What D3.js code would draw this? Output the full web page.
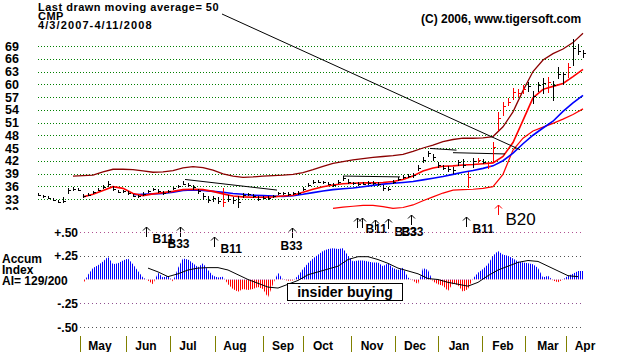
<!DOCTYPE html>
<html>
<head>
<meta charset="utf-8">
<script src="https://cdn.jsdelivr.net/npm/d3@7"></script>
<style>
    body { margin: 0; background: #fff; }
    svg text { font-family: "Liberation Sans", Arial, sans-serif; font-weight: bold; fill: #000; }
</style>
</head>
<body>
<div id="chart"></div>
<script>

// CMP 4/3/2007 - 4/11/2008, one bar about every other trading day
var closes = [33.9,33.6,33.2,32.8,32.4,32.6,35.0,35.4,35.2,33.6,
    34.0,34.6,35.2,35.8,36.6,35.4,34.7,34.8,34.4,33.8,
    33.6,34.2,34.8,35.3,34.8,34.3,34.8,35.5,36.0,36.6,
    36.4,35.9,34.8,33.8,32.8,33.2,32.5,32.2,33.1,32.7,
    32.4,34.0,34.1,33.6,33.1,33.3,33.2,33.6,34.3,34.3,
    34.2,34.3,34.4,35.4,36.4,37.1,37.1,36.9,36.6,36.3,
    37.0,37.9,37.0,36.7,36.5,36.6,36.7,36.7,36.5,35.5,
    35.4,37.1,37.7,38.2,38.4,38.6,40.4,42.2,43.8,42.8,
    41.0,40.4,40.1,39.8,41.6,41.0,38.2,42.0,42.2,41.8,
    40.8,45.3,52.0,55.0,55.9,58.2,57.9,59.0,59.5,57.3,
    59.8,60.4,60.5,59.8,62.4,62.3,64.0,68.5,67.8,67.3];

var highs = [34.3,34.0,33.6,33.2,32.8,33.4,35.5,35.8,35.6,34.2,
    34.4,35.0,35.6,36.2,37.2,36.0,35.2,35.2,34.9,34.2,
    34.0,34.6,35.2,35.7,35.3,34.8,35.2,35.9,36.4,37.2,
    36.8,36.3,35.4,34.4,33.6,33.8,33.4,35.6,33.9,33.4,
    33.6,34.4,34.5,34.1,33.6,33.8,33.6,34.0,34.7,34.7,
    34.6,34.7,34.9,35.8,36.8,37.5,37.5,37.3,37.0,36.8,
    37.5,38.3,37.6,37.1,36.9,37.0,37.2,37.2,37.0,36.2,
    35.8,37.5,38.1,38.6,38.9,39.2,40.9,42.8,44.4,43.6,
    41.8,41.0,40.7,40.6,42.2,42.4,39.4,42.6,42.7,42.4,
    41.6,46.5,53.5,55.8,56.8,59.2,58.8,59.8,60.6,58.4,
    60.6,61.4,61.8,60.8,64.0,63.0,65.0,70.6,69.4,68.0];

var lows = [33.6,33.3,32.9,32.5,32.0,32.1,34.2,35.0,34.8,33.3,
    33.6,34.2,34.8,35.3,35.8,35.0,34.3,34.4,34.0,33.4,
    33.2,33.8,34.4,34.9,34.4,33.9,34.4,35.1,35.6,36.2,
    35.9,35.2,34.2,32.8,32.0,32.4,31.8,31.2,32.4,31.8,
    31.0,33.2,33.6,33.2,32.6,32.9,32.8,33.2,33.9,33.9,
    33.8,33.9,34.0,34.8,35.8,36.6,36.7,36.5,36.2,35.9,
    36.5,37.3,36.5,36.3,36.1,36.2,36.3,36.2,36.0,35.0,
    34.8,36.5,37.2,37.6,37.9,38.0,39.5,41.4,42.8,42.0,
    40.3,39.8,39.4,39.0,40.8,40.2,35.6,40.2,41.5,41.2,
    40.0,41.5,49.0,52.5,54.8,56.4,56.9,57.8,58.2,55.4,
    58.2,57.6,58.0,56.0,61.2,59.8,61.5,64.3,66.8,66.2];

// bars TigerSoft paints red
var redBars = [37, 86, 88, 90, 91, 92, 93, 94, 95, 96, 97, 102, 106];

// averages and bands: one value every 2 bars, starting at bar "...From"
var ma21From = 9;
var ma21 = [33.5,34.1,35.0,35.9,35.5,34.3,33.8,34.2,34.5,34.8,
    35.2,35.3,35.2,34.8,34.2,33.7,33.5,33.4,33.4,33.5,
    33.7,33.9,34.6,35.3,35.9,36.3,36.6,36.7,36.8,36.8,
    36.9,37.1,37.6,38.4,39.6,40.3,40.7,40.8,41.0,41.1,
    41.3,41.5,43.0,46.3,51.5,56.8,58.8,59.5,60.2,61.8,
    63.5];

var ma50From = 19;
var ma50 = [34.0,34.1,34.2,34.3,34.6,35.0,35.1,35.0,34.8,34.6,
    34.3,34.1,33.9,33.8,33.7,33.6,33.8,34.1,34.5,34.9,
    35.2,35.4,35.6,35.9,36.2,36.5,36.7,36.9,37.1,37.5,
    37.9,38.3,38.8,39.3,39.7,40.2,40.8,42.0,43.8,46.0,
    48.0,49.7,51.3,53.6,55.6,57.4];

var upperFrom = 7;
var upperBand = [38.4,38.5,38.6,39.4,40.0,40.0,39.9,39.6,39.3,39.4,
    39.7,40.3,40.6,40.4,39.8,38.9,38.4,38.1,38.2,38.4,
    38.5,38.6,38.8,39.2,39.9,40.7,41.4,41.8,42.2,42.5,
    42.8,43.0,43.2,43.5,44.2,45.0,45.7,46.5,47.0,47.3,
    47.3,47.4,47.7,50.0,53.5,58.5,63.0,65.7,67.2,68.3,
    69.8,72.0];

var lowerFrom = 59;
var lowerBand = [30.8,31.1,31.3,31.5,31.5,31.2,30.8,31.0,31.6,32.6,
    33.5,34.4,35.1,35.2,35.3,35.5,35.9,38.8,44.5,47.3,
    49.0,49.9,50.8,51.8,52.9,54.2];

// accumulation index, one value per bar from bar 9
var accumFrom = 9;
var accum = [-0.05,0.05,0.12,0.15,0.19,0.24,0.16,0.17,0.20,0.22,
    0.16,0.09,0.02,-0.01,-0.05,0.07,0.02,0.04,-0.02,0.12,
    0.22,0.21,0.17,0.13,0.17,0.10,0.04,0.02,0.03,-0.05,
    -0.10,-0.13,-0.10,-0.11,-0.10,-0.08,-0.10,-0.19,-0.05,0.07,
    0.00,-0.014,-0.01,0.04,0.11,0.17,0.22,0.26,0.30,0.32,
    0.33,0.32,0.33,0.25,0.19,0.20,0.20,0.19,0.18,0.18,
    0.14,0.17,0.12,0.10,0.125,0.02,-0.01,-0.05,0.12,0.10,
    -0.02,-0.05,-0.066,-0.12,-0.04,-0.06,-0.13,-0.10,0.01,0.07,
    0.11,0.16,0.25,0.30,0.26,0.25,0.22,0.19,0.18,0.17,
    0.16,0.12,0.02,0.04,-0.01,-0.03,0.00,0.04,0.06,0.09,
    0.09];

// its moving average, every 2 bars from bar 22
var accumMaFrom = 22;
var accumMa = [0.12,0.08,0.03,0.06,0.10,0.12,0.125,0.125,0.10,0.05,
    0.00,-0.04,-0.08,-0.09,-0.05,-0.01,0.05,0.08,0.11,0.14,
    0.21,0.24,0.24,0.21,0.17,0.12,0.09,0.06,0.01,0.00,
    -0.03,-0.05,-0.07,-0.03,0.04,0.10,0.14,0.18,0.20,0.19,
    0.14,0.09,0.04,0.03];

var priceTicks = [30, 33, 36, 39, 42, 45, 48, 51, 54, 57, 60, 63, 66, 69];
var accumTicks = [0.5, 0.25, -0.25, -0.5];
var accumTickLabels = ["+.50", "+.25", "-.25", "-.50"];

var monthNames = ["May", "Jun", "Jul", "Aug", "Sep", "Oct", "Nov", "Dec", "Jan", "Feb", "Mar", "Apr"];
var monthStarts = [8.4, 17.6, 26.4, 35.4, 45, 53, 62.6, 71.4, 80, 88.8, 97.4, 105.6];
var monthLabelAt = [12.4, 21.6, 30, 39.4, 49, 57, 66.8, 75.4, 84.2, 93, 102, 109.4];

// [fromBar, fromPrice, toBar, toPrice]
var trendLines = [[29.4, 37.6, 47.8, 35.1], [61, 38.4, 72.4, 38.2],
    [78.4, 44.9, 83.7, 44.5], [83, 43.9, 93.4, 43.6]];

var signalNames = ["B11", "B33", "B11", "B33", "B11", "B11", "B33", "B33", "B33", "B11", "B20"];
var signalDays = [21.5, 28.4, 35.2, 50.7, 63.8, 64.8, 67.4, 70.0, 74.6, 85.6, 92.1];


TigerChart = function(_parentElement) {
    this.parentElement = _parentElement;
    this.initVis();
};

TigerChart.prototype.initVis = function() {
    var vis = this;

    vis.width = 627;
    vis.height = 352;

    vis.svg = d3.select(vis.parentElement)
        .append("svg")
        .attr("width", vis.width)
        .attr("height", vis.height);

    vis.x = d3.scaleLinear()
        .domain([0, closes.length - 1])
        .range([38, 583]);

    vis.y = d3.scaleLinear()
        .domain([33, 69])
        .range([199, 46]);

    vis.yAcc = d3.scaleLinear()
        .domain([-0.5, 0.5])
        .range([327, 232]);

    vis.defs = vis.svg.append("defs");

    vis.defs.append("clipPath").attr("id", "priceClip")
        .append("rect").attr("x", 0).attr("y", 30).attr("width", 600).attr("height", 180);

    vis.defs.append("clipPath").attr("id", "accTop")
        .append("rect").attr("x", 60).attr("y", 200).attr("width", 540).attr("height", vis.yAcc(0) - 200);

    vis.defs.append("clipPath").attr("id", "accBottom")
        .append("rect").attr("x", 60).attr("y", vis.yAcc(0)).attr("width", 540).attr("height", 60);

    [["stripeBlue", "#0000ff"], ["stripeRed", "#ff0000"]].forEach(function(p) {
        var pat = vis.defs.append("pattern")
            .attr("id", p[0])
            .attr("patternUnits", "userSpaceOnUse")
            .attr("width", 2)
            .attr("height", 4);
        pat.append("rect").attr("width", 1).attr("height", 4).attr("fill", p[1]);
    });

    vis.drawPrice();
    vis.drawSignals();
    vis.drawAccum();
    vis.drawAxis();
};

// pairs [bar, value] for a series sampled every 2 bars
function everyOther(from, values) {
    return values.map(function(v, k) { return [from + 2 * k, v]; });
}

TigerChart.prototype.drawPrice = function() {
    var vis = this;
    var px = function(v) { return Math.round(v) + 0.5; };

    // dotted price grid
    vis.svg.append("g").selectAll("line")
        .data(priceTicks.filter(function(d) { return d > 30; }))
        .enter().append("line")
        .attr("x1", 38).attr("x2", 584)
        .attr("y1", function(d) { return px(vis.y(d)); })
        .attr("y2", function(d) { return px(vis.y(d)); })
        .attr("stroke", "#008000")
        .attr("stroke-dasharray", "1,2")
        .attr("shape-rendering", "crispEdges");

    vis.svg.append("g").attr("clip-path", "url(#priceClip)")
        .selectAll("text")
        .data(priceTicks)
        .enter().append("text")
        .attr("x", 5)
        .attr("y", function(d) { return vis.y(d) + 4.5; })
        .attr("font-size", "12.5px")
        .text(function(d) { return d; });

    var plot = vis.svg.append("g").attr("clip-path", "url(#priceClip)");

    var line = d3.line()
        .x(function(d) { return vis.x(d[0]); })
        .y(function(d) { return vis.y(d[1]); });

    plot.append("path").datum(everyOther(upperFrom, upperBand))
        .attr("d", line).attr("fill", "none").attr("stroke", "#8b0000").attr("stroke-width", 1.3);
    plot.append("path").datum(everyOther(lowerFrom, lowerBand))
        .attr("d", line).attr("fill", "none").attr("stroke", "#ff0000").attr("stroke-width", 1.2);
    plot.append("path").datum(everyOther(ma50From, ma50))
        .attr("d", line).attr("fill", "none").attr("stroke", "#0000ff").attr("stroke-width", 1.6);
    plot.append("path").datum(everyOther(ma21From, ma21))
        .attr("d", line).attr("fill", "none").attr("stroke", "#ff0000").attr("stroke-width", 1.6);

    plot.selectAll(".trend")
        .data(trendLines)
        .enter().append("line")
        .attr("class", "trend")
        .attr("x1", function(d) { return vis.x(d[0]); })
        .attr("y1", function(d) { return vis.y(d[1]); })
        .attr("x2", function(d) { return vis.x(d[2]); })
        .attr("y2", function(d) { return vis.y(d[3]); })
        .attr("stroke", "#000")
        .attr("stroke-width", 1);

    // high-low bars with a close tick
    var bars = plot.selectAll(".bar")
        .data(closes)
        .enter().append("g")
        .attr("class", "bar")
        .attr("stroke", function(d, i) { return redBars.indexOf(i) >= 0 ? "#ff0000" : "#000"; })
        .attr("shape-rendering", "crispEdges");

    bars.append("line")
        .attr("x1", function(d, i) { return px(vis.x(i)); })
        .attr("x2", function(d, i) { return px(vis.x(i)); })
        .attr("y1", function(d, i) { return vis.y(highs[i]); })
        .attr("y2", function(d, i) { return vis.y(lows[i]); });

    bars.append("line")
        .attr("x1", function(d, i) { return px(vis.x(i)) - 1; })
        .attr("x2", function(d, i) { return px(vis.x(i)) + 2; })
        .attr("y1", function(d) { return px(vis.y(d)); })
        .attr("y2", function(d) { return px(vis.y(d)); });

    // titles, packed tightly as in the original
    var titles = ["Last drawn moving average= 50", "CMP", "4/3/2007-4/11/2008"];
    var baselines = [11, 20, 28.8];
    titles.forEach(function(t, k) {
        vis.svg.append("text")
            .attr("x", 38).attr("y", baselines[k])
            .attr("font-size", "11px")
            .attr("letter-spacing", k === 2 ? "1.1px" : "0.5px")
            .text(t);
    });
    vis.svg.append("text").attr("x", 421).attr("y", 23).attr("font-size", "12px")
        .text("(C) 2006, www.tigersoft.com");

    // pointer from the title to the 50-day average
    vis.svg.append("line")
        .attr("x1", 222).attr("y1", 14)
        .attr("x2", vis.x(96.4)).attr("y2", vis.y(44.6))
        .attr("stroke", "#000")
        .attr("stroke-width", 1);
};

TigerChart.prototype.drawSignals = function() {
    var vis = this;

    // arrow top, label dx (null = label shared with a neighbour), label baseline
    var layout = [[227, 6, 243], [227, -13, 248], [237, 6, 253], [228, -12, 250],
        [218, 8, 233], [218, null, 0], [220, 19, 236], [219, 13, 236], [215, null, 0],
        [217, 6, 233], [205, 7, 225]];

    signalDays.forEach(function(day, k) {
        var sx = Math.round(vis.x(day)) + 0.5;
        var top = layout[k][0];
        var big = signalNames[k] === "B20";
        var col = big ? "#ff0000" : "#000";

        vis.svg.append("path")
            .attr("d", "M" + sx + "," + (top + 10) + "V" + top +
                "M" + (sx - 3.5) + "," + (top + 3.5) + "L" + sx + "," + top + "L" + (sx + 3.5) + "," + (top + 3.5))
            .attr("fill", "none")
            .attr("stroke", col)
            .attr("stroke-width", 1);

        if (layout[k][1] === null) return;

        vis.svg.append("text")
            .attr("x", sx + layout[k][1])
            .attr("y", layout[k][2])
            .attr("font-size", big ? "17px" : "12px")
            .style("font-weight", big ? "normal" : "bold")
            .text(signalNames[k]);
    });
};

TigerChart.prototype.drawAccum = function() {
    var vis = this;

    var gridCol = ["#b05090", "#505050", "#905090", "#505050"];
    vis.svg.append("g").selectAll("line")
        .data(accumTicks)
        .enter().append("line")
        .attr("x1", 80).attr("x2", 584)
        .attr("y1", function(d) { return Math.round(vis.yAcc(d)) + 0.5; })
        .attr("y2", function(d) { return Math.round(vis.yAcc(d)) + 0.5; })
        .attr("stroke", function(d, i) { return gridCol[i]; })
        .attr("stroke-dasharray", "1,3")
        .attr("shape-rendering", "crispEdges");

    vis.svg.append("g").selectAll("text")
        .data(accumTicks)
        .enter().append("text")
        .attr("x", 78)
        .attr("y", function(d) { return vis.yAcc(d) + 4.5; })
        .attr("text-anchor", "end")
        .attr("font-size", "12px")
        .text(function(d, i) { return accumTickLabels[i]; });

    ["Accum", "Index", "AI= 129/200"].forEach(function(t, k) {
        vis.svg.append("text")
            .attr("x", 2).attr("y", 263 + k * 10.8)
            .attr("font-size", "12px")
            .text(t);
    });

    var pts = accum.map(function(v, k) { return [accumFrom + k, v]; });
    var area = d3.area()
        .x(function(d) { return vis.x(d[0]); })
        .y0(vis.yAcc(0))
        .y1(function(d) { return vis.yAcc(d[1]); });

    vis.svg.append("path").datum(pts)
        .attr("d", area)
        .attr("fill", "url(#stripeBlue)")
        .attr("clip-path", "url(#accTop)");

    vis.svg.append("path").datum(pts)
        .attr("d", area)
        .attr("fill", "url(#stripeRed)")
        .attr("clip-path", "url(#accBottom)");

    var line = d3.line()
        .x(function(d) { return vis.x(d[0]); })
        .y(function(d) { return vis.yAcc(d[1]); });

    vis.svg.append("path").datum(everyOther(accumMaFrom, accumMa))
        .attr("d", line)
        .attr("fill", "none")
        .attr("stroke", "#000")
        .attr("stroke-width", 1);

    // insider buying note
    vis.svg.append("rect")
        .attr("x", 287.5).attr("y", 283.5)
        .attr("width", 115).attr("height", 17)
        .attr("fill", "#fff")
        .attr("stroke", "#000");
    vis.svg.append("text")
        .attr("x", 345).attr("y", 297)
        .attr("text-anchor", "middle")
        .attr("font-size", "14px")
        .text("insider buying");
};

TigerChart.prototype.drawAxis = function() {
    var vis = this;

    vis.svg.append("g").selectAll("line")
        .data(monthStarts)
        .enter().append("line")
        .attr("x1", function(d) { return Math.round(vis.x(d)) + 0.5; })
        .attr("x2", function(d) { return Math.round(vis.x(d)) + 0.5; })
        .attr("y1", 336).attr("y2", 352)
        .attr("stroke", "#808000");

    vis.svg.append("g").selectAll("text")
        .data(monthNames)
        .enter().append("text")
        .attr("x", function(d, i) { return vis.x(monthLabelAt[i]); })
        .attr("y", 350)
        .attr("text-anchor", "middle")
        .attr("font-size", "12px")
        .text(function(d) { return d; });
};

var chart = new TigerChart("#chart");

</script>
</body>
</html>
